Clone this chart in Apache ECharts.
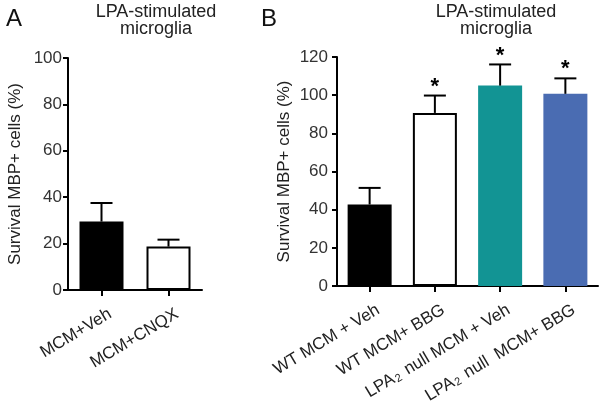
<!DOCTYPE html>
<html>
<head>
<meta charset="utf-8">
<script src="https://cdn.jsdelivr.net/npm/echarts@6/dist/echarts.min.js"></script>
<style>html,body{margin:0;padding:0;background:#fff}#c{width:600px;height:406px}</style>
</head>
<body>
<div id="c"></div>
<script>
// ---- data ----
var catsA = ['MCM+Veh', 'MCM+CNQX'];
var meanA = [29.5, 18.7];
var semA = [8.0, 3.0];
var colorsA = ['#000000', '#ffffff'];
var marksA = ['', ''];

var catsB = ['WT MCM + Veh', 'WT MCM+ BBG', 'LPA2 null MCM + Veh', 'LPA2 null  MCM+ BBG'];
var meanB = [42.7, 90.7, 105.0, 100.7];
var semB = [8.7, 9.1, 11.1, 8.1];
var colorsB = ['#000000', '#ffffff', '#129494', '#4a6cb2'];
var marksB = ['', '*', '*', '*'];

var ticksA = [0, 20, 40, 60, 80, 100];
var ticksB = [0, 20, 40, 60, 80, 100, 120];

var FONT = 'Liberation Sans, Arial, sans-serif';
var chart = echarts.init(document.getElementById('c'), null, {renderer: 'canvas'});

function barData(means, colors) {
  return means.map(function (v, i) {
    var c = colors[i];
    var bordered = (c === '#000000' || c === '#ffffff');
    return {value: v, itemStyle: {color: c, borderColor: bordered ? '#000' : c, borderWidth: bordered ? 2 : 0}};
  });
}
function errData(means, sems) {
  return means.map(function (v, i) { return [i, v, v + sems[i]]; });
}
function errRender(marks) {
  return function (params, api) {
    var i = api.value(0);
    var p1 = api.coord([i, api.value(1)]);
    var p2 = api.coord([i, api.value(2)]);
    var children = [
      {type: 'line', shape: {x1: p1[0], y1: p1[1], x2: p2[0], y2: p2[1]}, style: {stroke: '#000', lineWidth: 2}},
      {type: 'line', shape: {x1: p2[0] - 11, y1: p2[1], x2: p2[0] + 11, y2: p2[1]}, style: {stroke: '#000', lineWidth: 2}}
    ];
    var m = marks[params.dataIndex];
    if (m) {
      children.push({type: 'text', x: p2[0], y: p2[1] - 20,
        style: {text: m, fill: '#000', font: 'bold 22px ' + FONT, align: 'center', verticalAlign: 'top'}});
    }
    return {type: 'group', children: children};
  };
}
function labelFmt(v) { return v.replace('LPA2', 'LPA{sub|2}'); }

var yName = 'Survival MBP+ cells (%)';
function yAxis(gi, ticks, margin) {
  return {
    type: 'value', gridIndex: gi, min: ticks[0], max: ticks[ticks.length - 1], interval: ticks[1] - ticks[0],
    name: yName, nameLocation: 'middle', nameGap: 44,
    nameTextStyle: {fontFamily: FONT, fontSize: 17, color: '#222'},
    axisLine: {show: true, lineStyle: {color: '#000', width: 2}},
    axisTick: {show: true, length: 5, lineStyle: {color: '#000', width: 2}},
    axisLabel: {fontFamily: FONT, fontSize: 17, color: '#333', margin: margin},
    splitLine: {show: false}
  };
}
function xAxis(gi, cats) {
  return {
    type: 'category', gridIndex: gi, data: cats,
    axisLine: {show: true, lineStyle: {color: '#000', width: 2}},
    axisTick: {show: true, alignWithLabel: true, length: 6, lineStyle: {color: '#000', width: 2}},
    axisLabel: {interval: 0, rotate: 31, fontFamily: FONT, fontSize: 17, color: '#222', margin: 18,
      align: 'right', verticalAlign: 'top', padding: [0, -5, 0, 0],
      formatter: labelFmt,
      rich: {sub: {fontFamily: FONT, fontSize: 11, color: '#222', verticalAlign: 'bottom', padding: [0, 2, 0, 1]}}}
  };
}

chart.setOption({
  animation: false,
  backgroundColor: '#fff',
  title: [
    {text: 'A', left: 1, top: 2, textStyle: {fontFamily: FONT, fontSize: 24, fontWeight: 'normal', color: '#111'}},
    {text: 'B', left: 256, top: 2, textStyle: {fontFamily: FONT, fontSize: 24, fontWeight: 'normal', color: '#111'}},
    {text: 'LPA-stimulated\nmicroglia', left: 151, top: -1, textAlign: 'center',
      textStyle: {fontFamily: FONT, fontSize: 18, fontWeight: 'normal', color: '#222', lineHeight: 17}},
    {text: 'LPA-stimulated\nmicroglia', left: 491, top: -1, textAlign: 'center',
      textStyle: {fontFamily: FONT, fontSize: 18, fontWeight: 'normal', color: '#222', lineHeight: 17}}
  ],
  grid: [
    {left: 68, top: 58, width: 134, height: 232},
    {left: 337, top: 57, width: 261, height: 232}
  ],
  xAxis: [xAxis(0, catsA), xAxis(1, catsB)],
  yAxis: [yAxis(0, ticksA, 6), yAxis(1, ticksB, 9)],
  series: [
    {type: 'bar', xAxisIndex: 0, yAxisIndex: 0, barWidth: 44, data: barData(meanA, colorsA)},
    {type: 'custom', xAxisIndex: 0, yAxisIndex: 0, renderItem: errRender(marksA), data: errData(meanA, semA), z: 5},
    {type: 'bar', xAxisIndex: 1, yAxisIndex: 1, barWidth: 44, data: barData(meanB, colorsB)},
    {type: 'custom', xAxisIndex: 1, yAxisIndex: 1, renderItem: errRender(marksB), data: errData(meanB, semB), z: 5}
  ]
});
</script>
</body>
</html>
